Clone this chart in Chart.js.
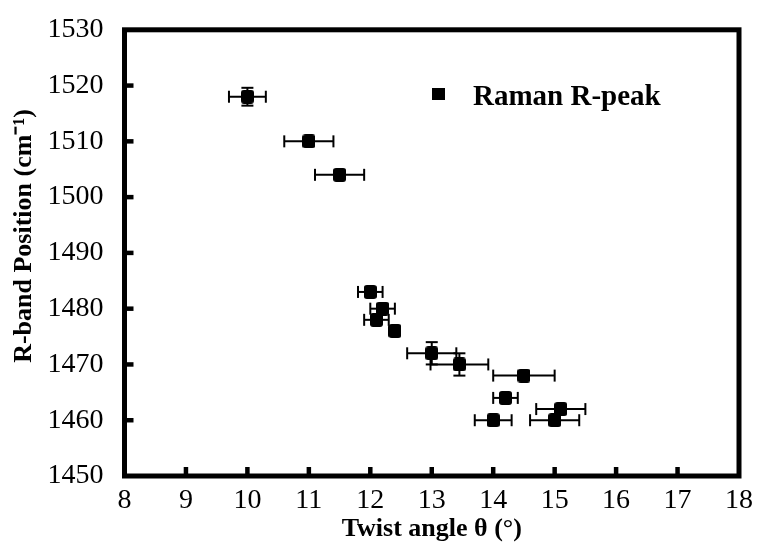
<html>
<head>
<style>
  body { margin: 0; background: #fff; }
</style>
</head>
<body>
<div>
  <canvas id="myChart" width="759" height="552"></canvas>
</div>
<script src="https://cdn.jsdelivr.net/npm/chart.js"></script>
<script>
// twist angle (deg) and R-peak position (cm-1)
const angles   = [10, 11, 11.5, 12, 12.2, 12.1, 12.4, 13, 13.45, 14.5, 14.2, 15.1, 14, 15];
const peaks    = [1518, 1510, 1504, 1483, 1480, 1478, 1476, 1472, 1470, 1468, 1464, 1462, 1460, 1460];
const angleErr = [0.3, 0.4, 0.4, 0.2, 0.2, 0.2, 0, 0.4, 0.47, 0.5, 0.2, 0.4, 0.3, 0.4];
const peakErr  = [1.6, 0.8, 0.8, 0.8, 0.8, 0.8, 0.8, 2, 2, 0.8, 0.8, 0.8, 0.8, 0.8];

const xTicks = [8, 9, 10, 11, 12, 13, 14, 15, 16, 17, 18];
const yTicks = [1450, 1460, 1470, 1480, 1490, 1500, 1510, 1520, 1530];

const seriesLabel = 'Raman R-peak';
const xTitle = 'Twist angle \u03b8 (\u00b0)';
const yTitle = 'R-band Position (cm\u207b\u00b9)';

function makeMarker(w, h, r) {
  const c = document.createElement('canvas');
  c.width = w; c.height = h;
  const g = c.getContext('2d');
  g.fillStyle = '#000';
  g.beginPath();
  if (g.roundRect) g.roundRect(0, 0, w, h, r); else g.rect(0, 0, w, h);
  g.fill();
  return c;
}

function line(ctx, x1, y1, x2, y2) {
  ctx.beginPath();
  ctx.moveTo(x1, y1);
  ctx.lineTo(x2, y2);
  ctx.stroke();
}

const errorBars = {
  id: 'errorBars',
  beforeDatasetsDraw(chart) {
    const ctx = chart.ctx, x = chart.scales.x, y = chart.scales.y;
    ctx.save();
    ctx.strokeStyle = '#000';
    ctx.lineWidth = 2;
    const cap = 6;
    angles.forEach((a, i) => {
      const px = x.getPixelForValue(a), py = y.getPixelForValue(peaks[i]);
      if (angleErr[i] > 0) {
        const l = x.getPixelForValue(a - angleErr[i]), r = x.getPixelForValue(a + angleErr[i]);
        line(ctx, l, py, r, py);
        line(ctx, l, py - cap, l, py + cap);
        line(ctx, r, py - cap, r, py + cap);
      }
      if (peakErr[i] > 0) {
        const t = y.getPixelForValue(peaks[i] + peakErr[i]), b = y.getPixelForValue(peaks[i] - peakErr[i]);
        line(ctx, px, t, px, b);
        line(ctx, px - cap, t, px + cap, t);
        line(ctx, px - cap, b, px + cap, b);
      }
    });
    ctx.restore();
  }
};

const frame = {
  id: 'frame',
  afterDraw(chart) {
    const ctx = chart.ctx, a = chart.chartArea, x = chart.scales.x, y = chart.scales.y;
    ctx.save();
    ctx.strokeStyle = '#000';
    ctx.lineWidth = 5;
    ctx.strokeRect(a.left, a.top, a.right - a.left, a.bottom - a.top);
    // inward ticks
    ctx.lineWidth = 4.5;
    x.ticks.forEach(t => {
      const px = x.getPixelForValue(t.value);
      if (px > a.left + 3 && px < a.right - 3) line(ctx, px, a.bottom, px, a.bottom - 9);
    });
    y.ticks.forEach(t => {
      const py = y.getPixelForValue(t.value);
      if (py > a.top + 3 && py < a.bottom - 3) line(ctx, a.left, py, a.left + 9, py);
    });

    // legend
    ctx.fillStyle = '#000';
    ctx.fillRect(432, 88, 13, 12);
    ctx.font = 'bold 29px "Liberation Serif"';
    ctx.textBaseline = 'alphabetic';
    ctx.textAlign = 'left';
    ctx.fillText(chart.data.datasets[0].label, 473, 105);

    // y title
    ctx.translate(24, 236);
    ctx.rotate(-Math.PI / 2);
    ctx.font = 'bold 26px "Liberation Serif"';
    ctx.textAlign = 'center';
    ctx.textBaseline = 'middle';
    ctx.fillText(yTitle, 0, 0);
    ctx.restore();
  }
};

const data = {
  datasets: [{
    label: seriesLabel,
    data: angles.map((a, i) => ({ x: a, y: peaks[i] })),
    pointStyle: makeMarker(13, 14, 3),
    backgroundColor: '#000',
    borderColor: '#000',
    showLine: false,
  }]
};

const tickFont = { family: 'Liberation Serif', size: 28 };

const config = {
  type: 'scatter',
  data: data,
  options: {
    responsive: false,
    animation: false,
    layout: { padding: { top: 25.5, right: 20, left: 0, bottom: 0 } },
    plugins: {
      legend: { display: false },
      tooltip: { enabled: false }
    },
    scales: {
      x: {
        type: 'linear',
        min: 8,
        max: 18,
        afterBuildTicks: s => { s.ticks = xTicks.map(v => ({ value: v })); },
        afterFit: s => { s.height = 76; },
        grid: { display: false },
        border: { display: false },
        ticks: { color: '#000', font: tickFont, padding: 0, maxRotation: 0, callback: v => String(v) },
        title: {
          display: true,
          text: xTitle,
          color: '#000',
          font: { family: 'Liberation Serif', size: 26, weight: 'bold' },
          padding: { top: 0, bottom: 7 }
        }
      },
      y: {
        type: 'linear',
        min: 1450,
        max: 1530,
        afterBuildTicks: s => { s.ticks = yTicks.map(v => ({ value: v })); },
        afterFit: s => { s.width = 124.5; },
        grid: { display: false },
        border: { display: false },
        ticks: { color: '#000', font: tickFont, padding: 13, callback: v => String(v) }
      }
    }
  },
  plugins: [errorBars, frame]
};

const myChart = new Chart(
  document.getElementById('myChart'),
  config
);
</script>
</body>
</html>
